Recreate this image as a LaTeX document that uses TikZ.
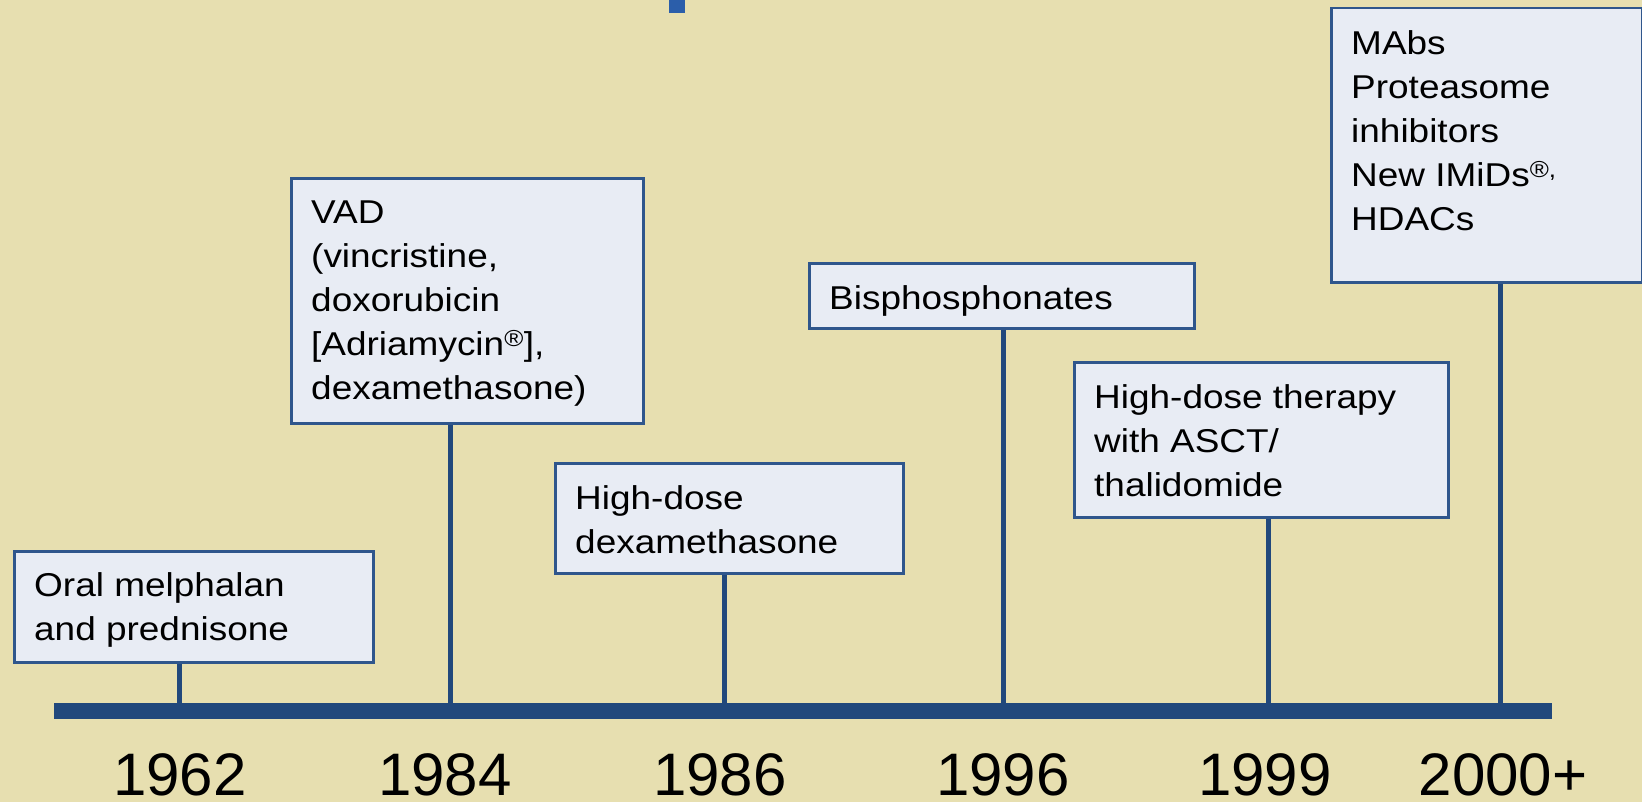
\documentclass[tikz,border=0pt]{standalone}
\usepackage{fontspec}
\setmainfont{Liberation Sans}
\newfontfamily\boxfont[FakeStretch=1.12]{Liberation Sans}
\definecolor{parch}{RGB}{231,223,176}
\definecolor{boxfill}{RGB}{232,236,244}
\definecolor{boxline}{RGB}{47,86,140}
\definecolor{axisblue}{RGB}{33,72,124}
\definecolor{topblue}{RGB}{43,94,170}
\tikzset{
  box/.style={draw=boxline, line width=2.5bp, fill=boxfill, rectangle, inner sep=0pt, anchor=north west},
  txt/.style={inner sep=0pt, align=left, anchor=north west, text=black,
    font=\boxfont\fontsize{33bp}{44bp}\selectfont},
  stem/.style={draw=axisblue, line width=5bp},
  year/.style={inner sep=0pt, anchor=base, text=black, font=\fontsize{60bp}{68bp}\selectfont},
  axisbar/.style={fill=axisblue, rectangle, inner sep=0pt, anchor=north west}
}
\begin{document}
\begin{tikzpicture}[x=1bp,y=-1bp]
\useasboundingbox (0,0) rectangle (1642,802);
\fill[parch] (0,0) rectangle (1642,802);
% top mark
\fill[topblue] (669,0) rectangle (685,13);
% axis
\node[axisbar, minimum width=1498bp, minimum height=16bp] (axis) at (54,703) {};
\coordinate (k1) at (179,703);
\coordinate (k2) at (450,703);
\coordinate (k3) at (724,703);
\coordinate (k4) at (1003,703);
\coordinate (k5) at (1268,703);
\coordinate (k6) at (1500,703);
% boxes
\node[box, minimum width=359bp, minimum height=111bp] (b1) at (13,550) {};
\node[box, minimum width=352bp, minimum height=245bp] (b2) at (290,177) {};
\node[box, minimum width=348bp, minimum height=110bp] (b3) at (554,462) {};
\node[box, minimum width=385bp, minimum height=65bp] (b4) at (808,262) {};
\node[box, minimum width=374bp, minimum height=155bp] (b5) at (1073,361) {};
\node[box, minimum width=311bp, minimum height=274bp] (b6) at (1330,7) {};
% texts
\node[txt] (t1) at ([shift={(21,22)}]b1.north west) {Oral melphalan\\and prednisone};
\node[txt] (t2) at ([shift={(21,24)}]b2.north west) {VAD\\(vincristine,\\doxorubicin\\[0pt][Adriamycin\textsuperscript{®}],\\dexamethasone)};
\node[txt] (t3) at ([shift={(21,23)}]b3.north west) {High-dose\\dexamethasone};
\node[txt] (t4) at ([shift={(21,23)}]b4.north west) {Bisphosphonates};
\node[txt] (t5) at ([shift={(21,23)}]b5.north west) {High-dose therapy\\with ASCT/\\thalidomide};
\node[txt] (t6) at ([shift={(21,23)}]b6.north west) {MAbs\\Proteasome\\inhibitors\\New IMiDs\textsuperscript{®,}\\HDACs};
% stems
\draw[stem] (k1 |- b1.south) -- (k1);
\draw[stem] (k2 |- b2.south) -- (k2);
\draw[stem] (k3 |- b3.south) -- (k3);
\draw[stem] (k4 |- b4.south) -- (k4);
\draw[stem] (k5 |- b5.south) -- (k5);
\draw[stem] (k6 |- b6.south) -- (k6);
% years
\node[year] (y1) at (180,795) {1962};
\node[year] (y2) at (445,795) {1984};
\node[year] (y3) at (720,795) {1986};
\node[year] (y4) at (1003,795) {1996};
\node[year] (y5) at (1265,795) {1999};
\node[year] (y6) at (1503,795) {2000+};
\end{tikzpicture}
\end{document}
